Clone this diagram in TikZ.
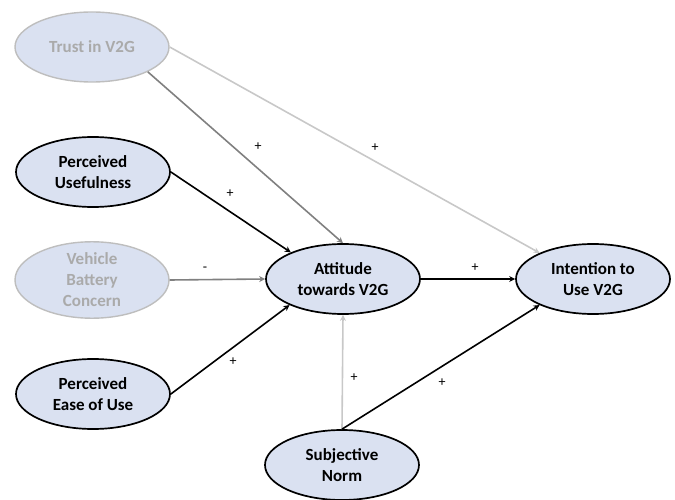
\documentclass[tikz,border=0pt]{standalone}
\usepackage{fontspec}
\setmainfont{Carlito}
\usetikzlibrary{shapes.geometric,arrows.meta}
\definecolor{cfill}{RGB}{218,225,241}
\definecolor{fadeline}{RGB}{190,190,190}
\definecolor{fadetext}{RGB}{170,170,170}
\definecolor{midgray}{RGB}{128,128,128}
\definecolor{lightgray}{RGB}{200,200,200}
\tikzset{
  construct/.style={ellipse, draw=black, line width=1.7pt, fill=cfill, minimum width=154pt, minimum height=70pt, inner sep=0pt, align=center, font=\fontsize{17}{21}\selectfont\bfseries},
  faded/.style={construct, draw=fadeline, text=fadetext, line width=1.4pt},
  conn/.style={line width=1.6pt, -{Stealth[length=6pt,width=6pt]}},
  sign/.style={font=\fontsize{14}{14}\selectfont, inner sep=1pt}
}
\begin{document}
\begin{tikzpicture}[x=1pt,y=-1pt]
\useasboundingbox (0,0) rectangle (675,500);
\node[faded] (trust) at (92,47) {Trust in V2G};
\node[construct] (pu) at (93,172) {Perceived\\Usefulness};
\node[faded] (vbc) at (92,280) {Vehicle\\Battery\\Concern};
\node[construct] (peou) at (93,394) {Perceived\\Ease of Use};
\node[construct] (att) at (343,279) {Attitude\\towards V2G};
\node[construct] (int) at (593,279) {Intention to\\Use V2G};
\node[construct] (sn) at (342,465) {Subjective\\Norm};

\draw[conn, draw=midgray] (trust.-24) -- (att.north);
\draw[conn, draw=lightgray] (trust.east) -- (int.154);
\draw[conn] (pu.east) -- (att.153);
\draw[conn, draw=midgray] (vbc.east) -- (att.west);
\draw[conn] (peou.east) -- (att.206);
\draw[conn] (att.east) -- (int.west);
\draw[conn, draw=lightgray] (sn.north) -- (att.south);
\draw[conn] (sn.north) -- (int.206);

\node[sign] (s1) at (258,147) {+};
\node[sign] (s2) at (375,148) {+};
\node[sign] (s3) at (230,194) {+};
\node[sign] (s4) at (205,269) {-};
\node[sign] (s5) at (233,362) {+};
\node[sign] (s6) at (475,268) {+};
\node[sign] (s7) at (354,378) {+};
\node[sign] (s8) at (442,383) {+};
\end{tikzpicture}
\end{document}
